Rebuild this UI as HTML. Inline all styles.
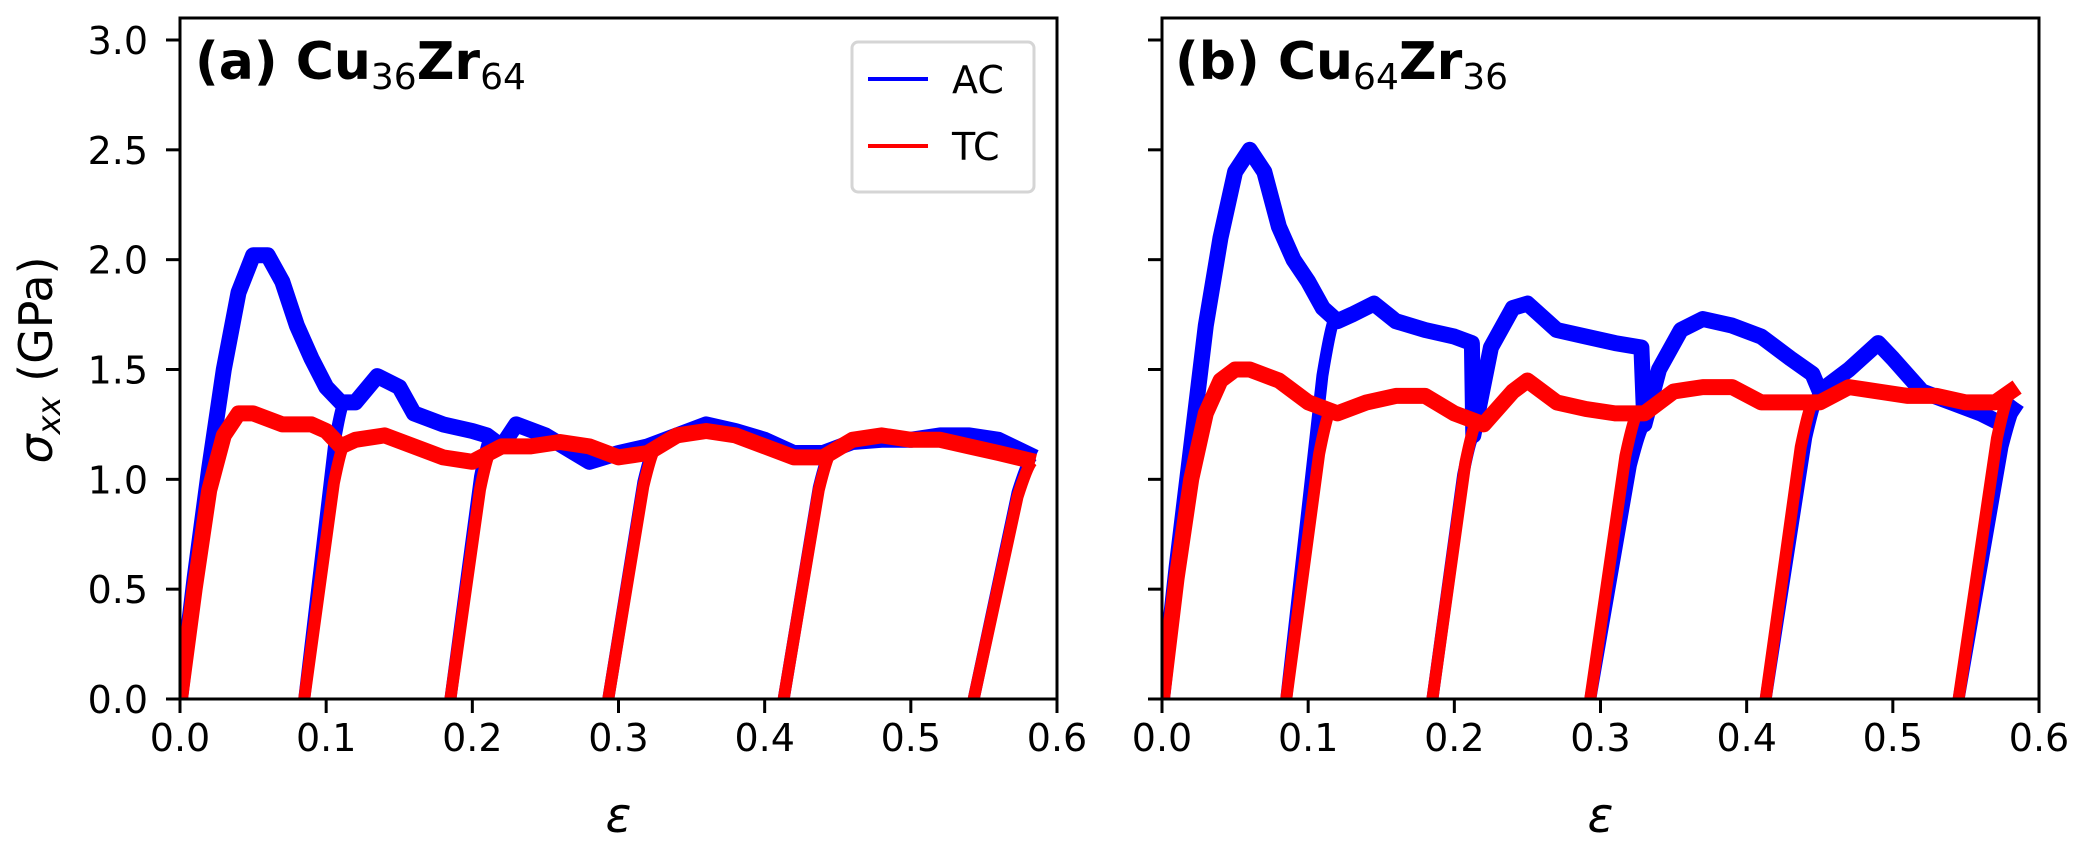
<!DOCTYPE html>
<html><head><meta charset="utf-8"><style>
html,body{margin:0;padding:0;background:#fff;}
svg{display:block;font-family:"DejaVu Sans","Liberation Sans",sans-serif;}
</style></head><body>
<svg id="chart" width="2083" height="848" viewBox="0 0 2083 848" xmlns="http://www.w3.org/2000/svg"></svg>
<script>
// ---- data (strain, stress GPa) ----
const leftACx = [0,0.01,0.02,0.03,0.04,0.05,0.06,0.07,0.08,0.09,0.10,0.11,0.12,0.135,0.15,0.16,0.18,0.20,0.21,0.22,0.23,0.25,0.27,0.28,0.30,0.32,0.34,0.36,0.38,0.40,0.42,0.44,0.46,0.48,0.50,0.52,0.54,0.56,0.585];
const leftACy = [0,0.55,1.05,1.5,1.85,2.02,2.02,1.9,1.7,1.55,1.42,1.35,1.35,1.47,1.42,1.3,1.25,1.22,1.2,1.15,1.25,1.2,1.12,1.08,1.12,1.15,1.2,1.25,1.22,1.18,1.12,1.12,1.17,1.18,1.18,1.2,1.2,1.18,1.1];
const leftTCx = [0,0.01,0.02,0.03,0.04,0.05,0.07,0.09,0.10,0.11,0.12,0.14,0.16,0.18,0.20,0.22,0.24,0.26,0.28,0.30,0.32,0.34,0.36,0.38,0.40,0.42,0.44,0.46,0.48,0.50,0.52,0.54,0.56,0.585];
const leftTCy = [0,0.5,0.95,1.2,1.3,1.3,1.25,1.25,1.22,1.15,1.18,1.2,1.15,1.1,1.08,1.15,1.15,1.17,1.15,1.1,1.12,1.2,1.22,1.2,1.15,1.1,1.1,1.18,1.2,1.18,1.18,1.15,1.12,1.08];
const leftRampStart = [0.085,0.185,0.293,0.413,0.543];
const leftRampEnd = [0.112,0.212,0.325,0.445,0.583];

const rightACx = [0,0.01,0.02,0.03,0.04,0.05,0.06,0.07,0.08,0.09,0.10,0.11,0.12,0.13,0.145,0.16,0.18,0.20,0.212,0.213,0.225,0.24,0.25,0.27,0.29,0.31,0.328,0.33,0.34,0.355,0.37,0.39,0.41,0.43,0.445,0.45,0.47,0.49,0.50,0.52,0.54,0.56,0.575,0.585];
const rightACy = [0,0.6,1.15,1.7,2.1,2.4,2.5,2.4,2.15,2.0,1.9,1.78,1.72,1.75,1.8,1.72,1.68,1.65,1.62,1.2,1.6,1.78,1.8,1.68,1.65,1.62,1.6,1.25,1.5,1.68,1.73,1.7,1.65,1.55,1.48,1.4,1.5,1.62,1.55,1.4,1.35,1.3,1.25,1.35];
const rightTCx = [0,0.01,0.02,0.03,0.04,0.05,0.06,0.08,0.10,0.12,0.14,0.16,0.18,0.20,0.22,0.24,0.25,0.27,0.29,0.31,0.33,0.35,0.37,0.39,0.41,0.43,0.45,0.47,0.49,0.51,0.53,0.55,0.57,0.585];
const rightTCy = [0,0.55,1.0,1.3,1.45,1.5,1.5,1.45,1.35,1.3,1.35,1.38,1.38,1.3,1.25,1.4,1.45,1.35,1.32,1.3,1.3,1.4,1.42,1.42,1.35,1.35,1.35,1.42,1.4,1.38,1.38,1.35,1.35,1.42];
const rightRampStart = [0.085,0.185,0.293,0.413,0.545];
const rightACRampEnd = [0.118,0.213,0.33,0.45,0.585];
const rightTCRampEnd = [0.115,0.215,0.325,0.445,0.58];

const xTicks = [0,0.1,0.2,0.3,0.4,0.5,0.6];
const xTickLabels = ["0.0","0.1","0.2","0.3","0.4","0.5","0.6"];
const yTicks = [0,0.5,1.0,1.5,2.0,2.5,3.0];
const yTickLabels = ["0.0","0.5","1.0","1.5","2.0","2.5","3.0"];

const NS="http://www.w3.org/2000/svg";
const svg=document.getElementById('chart');
function mk(tag,attrs,parent){const e=document.createElementNS(NS,tag);for(const k in attrs)e.setAttribute(k,attrs[k]);(parent||svg).appendChild(e);return e;}
function interp(xs,ys,x){for(let i=1;i<xs.length;i++){if(x<=xs[i]){const t=(x-xs[i-1])/(xs[i]-xs[i-1]||1);return ys[i-1]+t*(ys[i]-ys[i-1]);}}return ys[ys.length-1];}

const Y0=699, YT=18, yPer=(699-40)/3.0;
function yS(v){return Y0-v*yPer;}

function panel(name,left,right,series,showY){
  const g=mk('g',{});
  
  
  const xS=v=>left+(right-left)*v/0.6;
  const clip=mk('clipPath',{id:'clip-'+name},g);
  mk('rect',{x:left,y:YT,width:right-left,height:Y0-YT},clip);
  const plot=mk('g',{'clip-path':'url(#clip-'+name+')'},g);
  series.forEach(s=>{
    const sg=mk('g',{},plot);
    
    
    const d=s.xs.map((x,i)=>(i?'L':'M')+xS(x).toFixed(1)+','+yS(s.ys[i]).toFixed(1)).join('');
    const p=mk('path',{d:d,fill:'none',stroke:s.color,'stroke-width':16,'stroke-linejoin':'round'},sg);
    
    
    s.rs.forEach((r,i)=>{
      const e=s.re[i];
      const ye=interp(s.xs,s.ys,e);
      const xm=r+(e-r)*0.75, ym=ye*0.85;
      const rp=mk('path',{d:'M'+xS(r)+','+yS(0)+'L'+xS(xm)+','+yS(ym)+'Q'+xS(r+(e-r)*0.92)+','+yS(ye*0.98)+' '+xS(e)+','+yS(ye),fill:'none',stroke:s.color,'stroke-width':12},sg);
      
      
    });
  });
  const fr=mk('rect',{x:left,y:YT,width:right-left,height:Y0-YT,fill:'none',stroke:'#000','stroke-width':3},g);
  
  
  xTicks.forEach((t,i)=>{
    const x=xS(t);
    mk('line',{x1:x,y1:Y0,x2:x,y2:Y0+14,stroke:'#000','stroke-width':3},g);
    const tx=mk('text',{x:x,y:Y0+52,'font-size':38,'text-anchor':'middle'},g);
    tx.textContent=xTickLabels[i];
    
    
  });
  yTicks.forEach((t,i)=>{
    const y=yS(t);
    mk('line',{x1:left,y1:y,x2:left-14,y2:y,stroke:'#000','stroke-width':3},g);
    if(showY){
      const tx=mk('text',{x:left-32,y:y+14,'font-size':38,'text-anchor':'end'},g);
      tx.textContent=yTickLabels[i];
      
      
    }
  });
  const xl=mk('text',{x:(left+right)/2,y:832,'font-size':48,'font-style':'italic','text-anchor':'middle'},g);
  xl.textContent='ε';
  
  
  return xS;
}

panel('panel-a',180,1057,[
  {name:'ac-series',color:'#0000ff',xs:leftACx,ys:leftACy,rs:leftRampStart,re:leftRampEnd},
  {name:'tc-series',color:'#ff0000',xs:leftTCx,ys:leftTCy,rs:leftRampStart,re:leftRampEnd}
],true);
panel('panel-b',1162,2039,[
  {name:'ac-series',color:'#0000ff',xs:rightACx,ys:rightACy,rs:rightRampStart,re:rightACRampEnd},
  {name:'tc-series',color:'#ff0000',xs:rightTCx,ys:rightTCy,rs:rightRampStart,re:rightTCRampEnd}
],false);
</script>
<svg style="position:absolute;left:0;top:0" width="2083" height="848">
  <text x="195" y="79" font-size="52" font-weight="bold" font-family="DejaVu Sans, Liberation Sans, sans-serif">(a) Cu<tspan font-size="36" font-weight="normal" dy="10">36</tspan><tspan dy="-10">Zr</tspan><tspan font-size="36" font-weight="normal" dy="10">64</tspan></text>
  <text x="1175" y="79" font-size="52" font-weight="bold" font-family="DejaVu Sans, Liberation Sans, sans-serif">(b) Cu<tspan font-size="36" font-weight="normal" dy="10">64</tspan><tspan dy="-10">Zr</tspan><tspan font-size="36" font-weight="normal" dy="10">36</tspan></text>
  <text transform="translate(52,360) rotate(-90)" text-anchor="middle" font-size="46" font-family="DejaVu Sans, Liberation Sans, sans-serif"><tspan font-style="italic">σ</tspan><tspan font-style="italic" font-size="32" dy="8">xx</tspan><tspan dy="-8"> (GPa)</tspan></text>
  <g>
    <rect x="852" y="42" width="182" height="150" rx="6" fill="#fff" stroke="#d5d5d5" stroke-width="3"/>
    <line x1="868" y1="79" x2="928" y2="79" stroke="#0000ff" stroke-width="4"/>
    <text x="952" y="93" font-size="38" font-family="DejaVu Sans, Liberation Sans, sans-serif">AC</text>
    <line x1="868" y1="146" x2="928" y2="146" stroke="#ff0000" stroke-width="4"/>
    <text x="952" y="160" font-size="38" font-family="DejaVu Sans, Liberation Sans, sans-serif">TC</text>
  </g>
</svg>
</body></html>
